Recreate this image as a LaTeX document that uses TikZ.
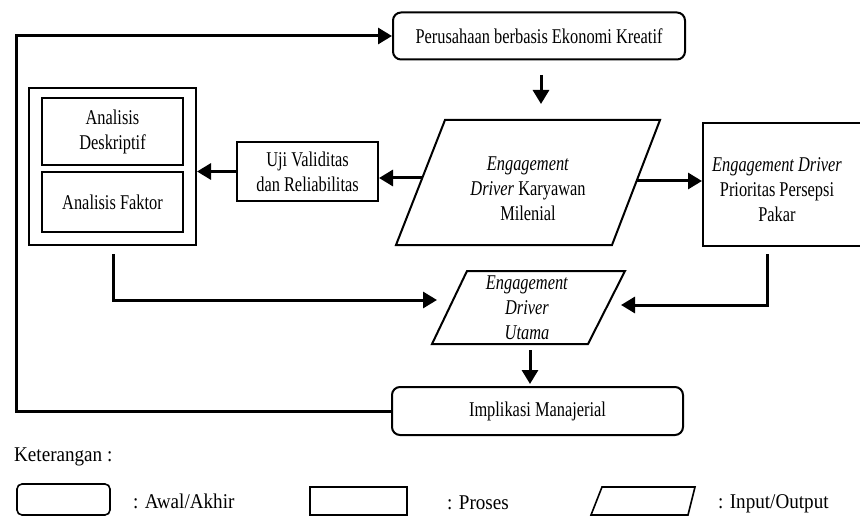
\documentclass[tikz,border=0pt]{standalone}
\usepackage{fontspec}
\setmainfont{Liberation Serif}[FakeStretch=0.78]
\newfontfamily\legfont{Liberation Serif}[FakeStretch=0.91]
\usetikzlibrary{arrows.meta,calc}
\newcommand{\fsz}{\fontsize{21}{25}\selectfont}
\begin{document}
\begin{tikzpicture}[x=1pt,y=-1pt,
  box/.style={draw, line width=2pt, align=center, inner sep=0pt, font=\fsz},
  lgbox/.style={draw, line width=1.6pt, inner sep=0pt},
  conn/.style={line width=3pt, -{Triangle[length=14pt,width=16pt]}},
  txt/.style={align=center, font=\fsz, inner sep=0pt},
  legtxt/.style={font=\legfont\fsz, inner sep=0pt, anchor=base west},
  ioshape/.style={line width=2pt, line join=miter}]
\useasboundingbox (0,0) rectangle (860,516);
\clip (0,0) rectangle (860,516);
% boxes
\node[box, rounded corners=8pt, minimum width=292pt, minimum height=47pt] (perus) at (539,36) {Perusahaan berbasis Ekonomi Kreatif};
\node[box, minimum width=167pt, minimum height=157pt] (out) at (112.5,166.5) {};
\node[box, minimum width=141pt, minimum height=67pt] (desk) at (112.5,131.5) {Analisis\\Deskriptif};
\node[box, minimum width=141pt, minimum height=60pt] (fak) at (112.5,202) {Analisis Faktor};
\node[box, minimum width=141pt, minimum height=59pt] (uji) at (307.5,171.5) {Uji Validitas\\dan Reliabilitas};
\node[box, minimum width=160pt, minimum height=123pt] (prior) at (783,184.5) {};
\node[txt] (priortxt) at (777,190) {\textit{Engagement Driver}\\Prioritas Persepsi\\Pakar};
\node[box, rounded corners=8pt, minimum width=291pt, minimum height=48pt] (imp) at (537.5,411) {Implikasi Manajerial};
% input/output shapes
\draw[ioshape] (445,120) -- (660,120) -- (612,245) -- (396,245) -- cycle;
\node[txt] (io1) at (528,189) {\textit{Engagement}\\\textit{Driver} Karyawan\\Milenial};
\draw[ioshape] (467,271) -- (625,271) -- (588,344) -- (432,344) -- cycle;
\node[txt] (io2) at (527,308) {\textit{Engagement}\\\textit{Driver}\\\textit{Utama}};
% connector ends
\coordinate (lx) at (16,0);
\coordinate (perusB) at (541,75);
\coordinate (io1T) at (541,104);
\coordinate (io1L) at (422,178);
\coordinate (io1R) at (637,181);
\coordinate (io2Lt) at (437,300);
\coordinate (io2Rt) at (621,305);
\coordinate (io2B) at (530,350);
\coordinate (impT) at (530,384);
% connectors
\draw[conn] (imp.west) -- (imp.west -| lx) |- (perus.west);
\draw[conn] (perusB) -- (io1T);
\draw[conn] (io1L) -- (io1L -| uji.east);
\draw[conn] (uji.west) -- (uji.west -| out.east);
\draw[conn] (io1R) -- (io1R -| prior.west);
\draw[conn] ($(out.south)+(0.5,8)$) |- (io2Lt);
\draw[conn] ($(prior.south)+(-16,7)$) |- (io2Rt);
\draw[conn] (io2B) -- (impT);
% legend
\node[legtxt] (ket) at (14,461) {Keterangan :};
\node[lgbox, rounded corners=5pt, minimum width=93pt, minimum height=31pt] (lg1) at (63.5,499.5) {};
\node[legtxt] (lt1) at (133,508) {: Awal/Akhir};
\node[lgbox, minimum width=97pt, minimum height=28pt] (lg2) at (358.5,501) {};
\node[legtxt] (lt2) at (447,509) {: Proses};
\draw[line width=1.6pt] (602,487) -- (695,487) -- (688,515) -- (591,515) -- cycle;
\node[legtxt] (lt3) at (718,508) {: Input/Output};
\end{tikzpicture}
\end{document}
